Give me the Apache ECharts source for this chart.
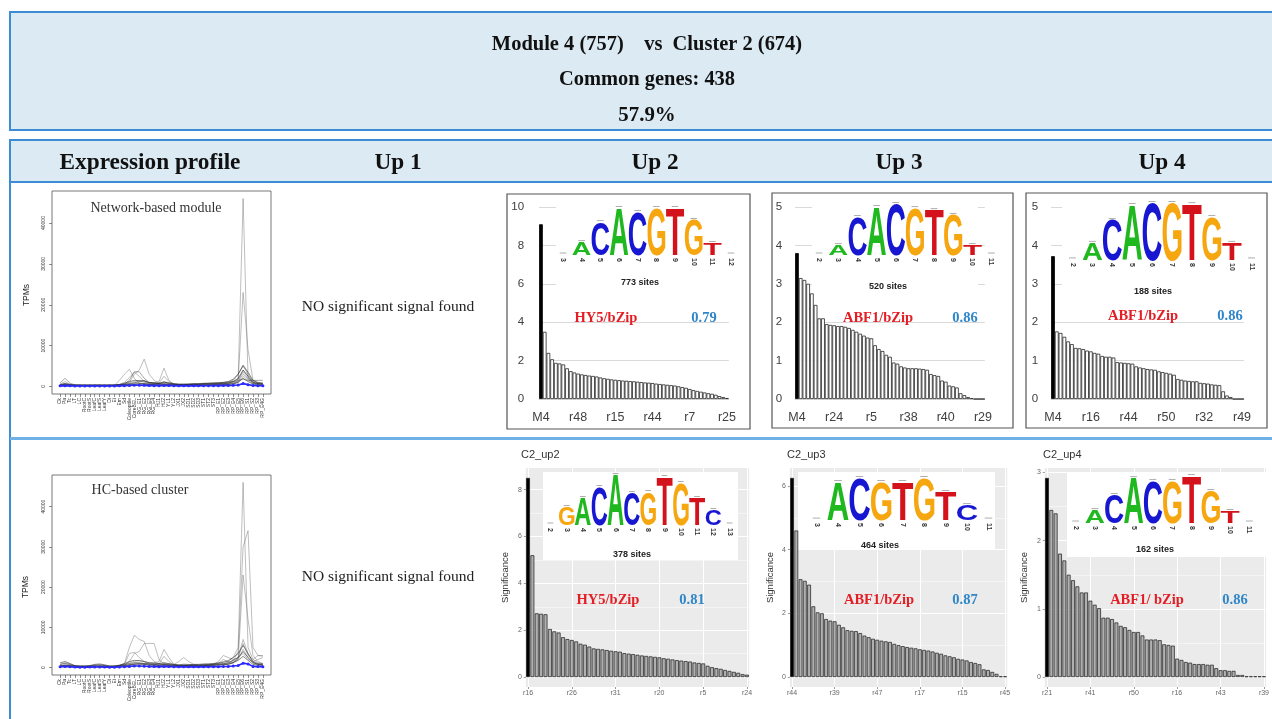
<!DOCTYPE html>
<html><head><meta charset="utf-8">
<script src="https://cdn.jsdelivr.net/npm/echarts@6/dist/echarts.min.js"></script>
<style>html,body{margin:0;padding:0;background:#fff;}#c{width:1272px;height:719px;}</style>
</head><body><div id="c"></div>
<script>
// ================= DATA =================
const tissues = ["Ck","Pa","Tc","LT","LC","RootC","RootS","LeafC","LeafS","LeafY","Di","Ei","Em","Sd","Coleoptile","CoreBEL","RG_E1","RG_E2","RG_E3","RG_E4","HJ1","HJ2","YL1","YL2","JX1","JX2","SD1","SD2","SD3","ST1","ST2","ST3","RP_E1","RP_E2","RP_E3","RP_E4","RP_E5","RP_E6","RP_S1","RP_S2","RP_S3","RP_E4G"];
const tpmTicks = [0,10000,20000,30000,40000];

// Network-based module (top) expression lines (TPM)
const modA = [600,1200,500,300,300,200, 200,300,300,200,200,300, 400,600,900,1200,1500,1000, 800,700,600,800,700,500, 400,500,600,600,500,600, 700,800,800,900,1000,1200, 1800,46000,2000,900,700,600];
const modB = [300,800,400,200,200,200, 200,200,200,200,200,200, 300,400,600,800,900,700, 500,500,400,500,500,400, 300,300,400,400,400,500, 500,600,600,700,800,800, 1500,23000,9000,1500,800,600];
const modC = [200,300,200,200,200,200, 200,200,200,200,200,300, 400,600,1000,3000,4000,6700, 3000,1500,800,600,500,400, 300,300,300,300,300,400, 400,400,500,500,600,800, 1200,3000,1800,800,600,500];
const modD = [300,400,300,200,200,200, 200,200,200,200,300,300, 1500,3000,4200,2000,800,600, 500,400,400,500,400,300, 300,300,300,300,300,300, 400,400,400,500,500,700, 1000,2500,1500,700,500,400];
const modE = [200,300,200,200,200,200, 200,200,200,200,200,200, 300,300,400,500,600,700, 700,900,1200,4500,1500,500, 400,300,300,300,300,300, 300,300,400,400,500,700, 1200,4000,2500,900,600,500];
const modF = [400,600,400,300,300,300, 300,300,300,300,300,300, 400,600,1500,3600,3600,2000, 1000,800,700,700,600,500, 400,400,500,500,500,600, 600,700,700,800,900,1500, 3000,5000,3000,1200,900,800];
const modG = [900,2000,800,400,300,300, 300,300,300,300,300,300, 300,400,500,600,700,600, 500,500,400,400,400,400, 400,400,500,600,700,800, 800,900,900,1000,1100,1200, 1400,1800,1500,1500,1500,1500];
const modH = [500,700,500,400,400,400, 400,400,400,400,400,400, 500,800,1200,1500,1400,1300, 1000,900,800,1000,900,700, 600,600,600,700,700,700, 800,800,900,1000,1200,1800, 3000,5200,3500,1500,1000,800];
const modI = [300,500,300,300,300,300, 300,300,300,300,300,300, 400,500,700,900,1200,1500, 900,800,700,1200,800,600, 500,500,500,500,500,600, 600,600,700,700,800,1200, 2000,4000,2500,1000,700,600];
const modJ = [200,300,200,200,200,200, 200,200,200,200,200,200, 200,300,400,500,600,600, 500,400,400,400,400,300, 300,300,300,300,300,300, 300,400,400,400,500,600, 1000,2000,1200,600,400,300];
const modK = [300,400,300,200,200,200, 200,200,200,200,200,300, 500,1000,2200,3500,2500,1200, 700,600,800,2500,1200,600, 500,400,400,400,400,400, 500,500,500,600,700,1000, 1800,3500,2000,900,700,600];
const modMean = [150,200,150,100,100,100, 100,100,100,100,100,120, 150,200,250,300,300,280, 220,200,200,250,220,180, 150,150,150,160,160,170, 180,190,200,210,230,280, 380,700,450,250,200,180];

// HC-based cluster (bottom) expression lines (TPM)
const hcA = [800,1200,900,400,300,300, 300,400,500,400,300,300, 500,800,1200,1500,1800,1500, 1200,1000,900,1000,900,700, 600,600,700,700,700,800, 900,1000,1200,1500,1800,2500, 5000,46000,5000,2000,1200,1000];
const hcB = [300,600,400,300,300,300, 300,300,300,300,300,300, 400,500,700,900,1000,900, 800,700,600,700,600,500, 500,500,500,500,500,600, 600,700,800,900,1200,1800, 4000,30000,34000,5000,3000,2800];
const hcC = [300,500,400,300,300,300, 300,300,300,300,300,300, 300,400,600,800,900,800, 600,600,500,600,500,400, 400,400,400,400,500,500, 500,600,700,800,1000,1500, 2000,23000,12000,3000,1500,1000];
const hcD = [400,600,400,300,300,300, 300,300,300,300,300,400, 600,1000,5000,8000,7000,6500, 3000,1500,900,800,700,600, 500,500,500,500,500,600, 600,700,700,800,900,1200, 2000,4500,2500,1200,800,700];
const hcE = [300,500,300,300,300,300, 300,300,300,300,300,300, 400,600,1500,3500,4000,6000, 6000,6000,2000,1000,800,600, 500,500,500,500,500,500, 600,600,700,700,900,1200, 2500,7000,3500,1200,800,700];
const hcF = [300,400,300,300,300,300, 300,300,300,300,300,300, 300,400,600,800,900,1000, 1000,1200,1500,4500,2500,800, 1500,2500,1500,800,600,600, 700,800,1500,3000,2500,2000, 2500,6000,3000,2000,3000,3000];
const hcG = [1200,1500,1000,500,400,400, 500,800,900,700,400,400, 600,1000,1500,1800,1700,1500, 1200,1100,1000,1200,1000,800, 700,700,700,800,800,900, 900,1000,1100,1300,1600,2500, 3500,5500,3500,1500,1000,900];
const hcH = [800,1000,700,400,300,300, 400,600,700,500,300,300, 500,700,1000,1200,1200,1000, 900,800,700,800,700,600, 500,500,500,600,600,700, 700,800,900,1000,1200,1800, 2500,4000,2500,1200,800,700];
const hcI = [500,600,500,300,300,300, 300,400,400,300,200,200, 300,500,700,900,900,800, 600,600,500,600,500,400, 400,400,400,400,400,500, 500,500,600,700,800,1200, 1800,2800,1800,800,600,500];
const hcJ = [300,400,300,200,200,200, 200,200,200,200,200,300, 500,800,3500,3800,2500,1500, 800,700,900,2800,1500,700, 600,900,800,600,500,500, 600,700,1000,2000,1500,1200, 2500,3500,2000,1500,2000,2500];
const hcMean = [200,250,200,120,100,100, 120,150,150,120,100,100, 150,200,300,380,380,350, 280,250,230,300,250,200, 180,200,190,180,180,190, 200,210,230,260,300,380, 520,1100,900,300,250,230];

// Motif enrichment bars - network modules (top row)
const up2TopCats = ["M4","r3","r12","r9","r30","r22","r41","r2","r17","r33","r48","r6","r27","r11","r39","r45","r1","r19","r36","r8","r15","r24","r50","r13","r4","r31","r42","r10","r28","r21","r44","r5","r37","r14","r47","r26","r18","r35","r40","r16","r7","r49","r23","r32","r29","r46","r34","r20","r43","r38","r25"];
const up2TopVals = [9.1,3.5,2.4,2.07,1.88,1.85,1.8,1.6,1.45,1.38, 1.32,1.28,1.25,1.22,1.2,1.17,1.12,1.08,1.05,1.02, 1.0,0.98,0.96,0.95,0.93,0.92,0.9,0.88,0.86,0.85, 0.83,0.8,0.78,0.76,0.74,0.72,0.7,0.66,0.62,0.58, 0.52,0.46,0.42,0.38,0.34,0.3,0.27,0.22,0.15,0.1, 0.05];
const up3TopCats = ["M4","r12","r3","r30","r9","r41","r22","r17","r2","r48","r24","r27","r6","r39","r11","r1","r45","r36","r19","r15","r5","r8","r13","r50","r31","r4","r10","r42","r21","r28","r38","r44","r14","r37","r26","r47","r35","r18","r16","r33","r40","r7","r23","r49","r25","r32","r34","r46","r43","r20","r29"];
const up3TopVals = [3.8,3.15,3.1,3.0,2.75,2.45,2.1,2.1,1.95,1.93, 1.92,1.9,1.9,1.88,1.85,1.8,1.75,1.7,1.65,1.6, 1.58,1.4,1.3,1.25,1.15,1.1,0.95,0.92,0.85,0.82, 0.8,0.8,0.8,0.79,0.78,0.76,0.65,0.62,0.6,0.48, 0.45,0.35,0.33,0.3,0.15,0.1,0.05,0.02,0,0, 0];
const up4TopCats = ["M4","r3","r12","r9","r30","r22","r41","r2","r17","r33","r16","r6","r27","r11","r39","r45","r1","r19","r36","r8","r44","r24","r15","r13","r4","r31","r42","r10","r28","r21","r50","r5","r37","r14","r47","r26","r18","r35","r40","r48","r32","r7","r23","r38","r29","r46","r34","r20","r43","r25","r49"];
const up4TopVals = [3.72,1.76,1.72,1.62,1.5,1.43,1.33,1.32,1.3,1.26, 1.24,1.2,1.18,1.12,1.1,1.1,1.08,0.96,0.95,0.94, 0.93,0.92,0.85,0.82,0.8,0.78,0.77,0.76,0.72,0.7, 0.68,0.66,0.63,0.52,0.5,0.48,0.47,0.46,0.46,0.42, 0.41,0.4,0.38,0.37,0.36,0.2,0.09,0.05,0,0, 0];

// Motif enrichment bars - HC clusters (bottom row)
const up2BotCats = ["r16","r3","r12","r9","r30","r22","r41","r2","r17","r33","r26","r6","r27","r11","r39","r45","r1","r19","r36","r8","r31","r48","r15","r13","r4","r50","r42","r10","r28","r21","r20","r44","r37","r14","r47","r35","r18","r40","r7","r49","r5","r23","r32","r29","r46","r34","r43","r38","r25","r0","r24"];
const up2BotVals = [8.5,5.2,2.72,2.7,2.68,2.05,1.95,1.9,1.7,1.62, 1.58,1.52,1.42,1.38,1.3,1.22,1.2,1.18,1.15,1.12, 1.1,1.08,1.02,1.0,0.98,0.95,0.92,0.9,0.88,0.86, 0.84,0.8,0.78,0.75,0.72,0.7,0.68,0.66,0.62,0.6, 0.58,0.48,0.42,0.38,0.35,0.3,0.26,0.22,0.18,0.12, 0.1];
const up3BotCats = ["r44","r3","r12","r9","r30","r22","r41","r2","r33","r48","r39","r6","r27","r11","r1","r19","r36","r8","r24","r50","r47","r13","r4","r31","r42","r10","r28","r21","r5","r37","r17","r14","r26","r18","r35","r40","r16","r7","r49","r23","r15","r32","r29","r46","r34","r20","r43","r38","r25","r0","r45"];
const up3BotVals = [6.25,4.6,3.07,3.02,2.9,2.22,2.03,2.0,1.82,1.77, 1.75,1.64,1.56,1.47,1.45,1.44,1.38,1.3,1.25,1.2, 1.17,1.14,1.12,1.1,1.04,1.0,0.97,0.94,0.92,0.9, 0.87,0.85,0.83,0.8,0.76,0.73,0.68,0.65,0.62,0.57, 0.55,0.52,0.47,0.44,0.4,0.24,0.22,0.16,0.1,0.02, 0.02];
const up4BotCats = ["r21","r3","r12","r9","r30","r22","r2","r17","r33","r48","r41","r6","r27","r11","r45","r1","r19","r36","r8","r24","r50","r15","r13","r4","r31","r42","r10","r28","r44","r5","r16","r37","r14","r47","r26","r18","r35","r40","r7","r49","r43","r23","r32","r29","r46","r34","r20","r38","r25","r0","r39"];
const up4BotVals = [2.92,2.45,2.4,1.81,1.71,1.5,1.42,1.33,1.24,1.24, 1.12,1.06,1.01,0.87,0.87,0.85,0.8,0.75,0.73,0.69, 0.66,0.66,0.61,0.55,0.55,0.55,0.54,0.48,0.47,0.46, 0.27,0.25,0.22,0.21,0.19,0.19,0.19,0.18,0.18,0.13, 0.1,0.1,0.09,0.09,0.03,0.03,0.01,0.01,0.01,0.01, 0.01];

const up2BotTicks = [0,2,4,6,8], up2BotMinor = [1,3,5,7];
const up3BotTicks = [0,2,4,6],   up3BotMinor = [1,3,5];
const up4BotTicks = [0,1,2,3],   up4BotMinor = [0.5,1.5,2.5];
const labelEvery10 = [0,10,20,30,40,50];

// Sequence logos (position labels, letters, heights in bits)
const logo1Pos = ["3","4","5","6","7","8","9","10","11","12"];
const logo1Let = ["A","A","C","A","C","G","T","G","T","A"];
const logo1H   = [0.02,0.55,1.40,2.0,1.83,2.0,2.0,1.49,0.51,0.02];
const logo2Pos = ["2","3","4","5","6","7","8","9","10","11"];
const logo2Let = ["A","A","C","A","C","G","T","G","T","A"];
const logo2H   = [0.02,0.39,1.49,1.88,2.0,1.84,1.76,1.57,0.39,0.02];
const logo3Pos = ["2","3","4","5","6","7","8","9","10","11"];
const logo3Let = ["A","A","C","A","C","G","T","G","T","A"];
const logo3H   = [0.02,0.6,1.4,1.93,2.0,2.0,1.96,1.51,0.6,0.02];
const logo4Pos = ["2","3","4","5","6","7","8","9","10","11","12","13"];
const logo4Let = ["A","G","A","C","A","C","G","T","G","T","C","A"];
const logo4H   = [0.02,0.72,1.08,1.52,2.0,1.28,1.32,1.92,1.68,1.08,0.6,0.02];
const logo5Pos = ["3","4","5","6","7","8","9","10","11"];
const logo5Let = ["A","A","C","G","T","G","T","C","A"];
const logo5H   = [0.02,1.81,2.0,1.81,1.81,2.0,1.33,0.71,0.02];
const logo6Pos = ["2","3","4","5","6","7","8","9","10","11"];
const logo6Let = ["A","A","C","A","C","G","T","G","T","A"];
const logo6H   = [0.02,0.55,1.19,1.91,1.79,1.79,2.0,1.36,0.51,0.02];

// ================= CHART =================
const SERIF = '"Liberation Serif","Times New Roman",serif';
const SANS = '"Liberation Sans",Arial,sans-serif';
const LETTER_COLORS = {A:'#1fb81f', C:'#1717d2', G:'#f6a60f', T:'#d3121c'};
const mctx = document.createElement('canvas').getContext('2d');
mctx.font = 'bold 40px "Liberation Sans"'; mctx.textBaseline = 'middle'; mctx.textAlign = 'center';
const gcache = {};
function glyph(ch){ if(!gcache[ch]){ const m = mctx.measureText(ch); gcache[ch] = {l:m.actualBoundingBoxLeft, r:m.actualBoundingBoxRight, a:m.actualBoundingBoxAscent, d:m.actualBoundingBoxDescent}; } return gcache[ch]; }
function logoRender(letters){
  return function(params, api){
    const i = api.value(0), h = api.value(1);
    const base = api.coord([i,0]), top = api.coord([i,h]);
    const bw = api.size([1,0])[0]*0.98;
    const H = base[1]-top[1];
    const kids = [{type:'line', shape:{x1:base[0]-bw*0.18, y1:top[1]-1.5, x2:base[0]+bw*0.18, y2:top[1]-1.5}, style:{stroke:'#999', lineWidth:0.8}}];
    if (H > 2) {
      const ch = letters[params.dataIndex]; const g = glyph(ch);
      const sx = bw/(g.l+g.r), sy = H/(g.a+g.d);
      kids.push({type:'text', x: base[0]-(g.r-g.l)/2*sx, y: base[1]-g.d*sy, scaleX:sx, scaleY:sy,
        style:{text:ch, fontSize:40, fontWeight:'bold', fontFamily:'"Liberation Sans"', fill:LETTER_COLORS[ch], align:'center', verticalAlign:'middle'}});
    }
    return {type:'group', children:kids};
  };
}

const tissueIdx = tissues.map((_, i) => i);
const pairs = arr => arr.map((v, i) => [i, v]);
const LIGHT = 'rgba(95,95,95,0.45)', MID = 'rgba(60,60,60,0.5)', DARK = 'rgba(30,30,30,0.6)';

const grid = [
  {left:52, top:191, width:219, height:203, show:true, borderColor:'#555', borderWidth:0.8, backgroundColor:'rgba(0,0,0,0)'},
  {left:52, top:475, width:219, height:200, show:true, borderColor:'#555', borderWidth:0.8, backgroundColor:'rgba(0,0,0,0)'},
  {left:539.1, top:207, width:189.7, height:192},
  {left:795.1, top:207, width:189.7, height:192},
  {left:1051.1, top:207, width:192.8, height:192},
  {left:525.8, top:468, width:223.4, height:219, show:true, backgroundColor:'#ebebeb', borderWidth:0},
  {left:789.9, top:468, width:217.3, height:219, show:true, backgroundColor:'#ebebeb', borderWidth:0},
  {left:1044.8, top:468, width:222.4, height:219, show:true, backgroundColor:'#ebebeb', borderWidth:0},
  {left:553.7, top:208, width:186.6, height:47},
  {left:809.6, top:204, width:191.4, height:51},
  {left:1062.5, top:203, width:199, height:57},
  {left:542.2, top:475, width:195.6, height:50},
  {left:805.75, top:478, width:193.5, height:42},
  {left:1066, top:476, width:193, height:47}
];

function exprX(gi){ return {gridIndex:gi, type:'value', min:-1.64, max:42.64, axisLine:{show:false, onZero:false}, splitLine:{show:false},
  axisTick:{customValues:tissueIdx, length:3, lineStyle:{color:'#444', width:0.6}},
  axisLabel:{customValues:tissueIdx, formatter:v=>tissues[v], rotate:90, fontSize:5, color:'#333', margin:4, fontFamily:SANS}}; }
function exprY(gi){ return {gridIndex:gi, type:'value', min:-1840, max:47840, axisLine:{show:false, onZero:false}, splitLine:{show:false},
  axisTick:{customValues:tpmTicks, length:3, lineStyle:{color:'#444', width:0.6}},
  axisLabel:{customValues:tpmTicks, formatter:v=>String(v), rotate:90, fontSize:5, color:'#333', margin:6, fontFamily:SANS}}; }
function topX(gi, cats){ return {gridIndex:gi, type:'category', data:cats, axisLine:{show:true, lineStyle:{color:'#d9d9d9'}}, axisTick:{show:false},
  axisLabel:{interval:9, fontSize:12.5, color:'#404040', margin:12, fontFamily:SANS}}; }
function topY(gi, max, iv, margin){ return {gridIndex:gi, type:'value', min:0, max:max, interval:iv, axisLine:{show:false}, axisTick:{show:false},
  splitLine:{lineStyle:{color:'#d9d9d9', width:1}}, axisLabel:{fontSize:11.5, color:'#404040', margin:margin, fontFamily:SANS}}; }
function botX(gi, cats){ return {gridIndex:gi, type:'category', data:cats, axisLine:{show:false, onZero:false},
  axisTick:{show:true, interval:9, alignWithLabel:true, length:2, lineStyle:{color:'#555', width:0.6}},
  axisLabel:{interval:9, fontSize:7, color:'#666', margin:3, fontFamily:SANS}, splitLine:{show:false}}; }
function botXGrid(gi){ return {gridIndex:gi, type:'value', min:-0.5, max:50.5, axisLine:{show:false, onZero:false}, axisLabel:{show:false},
  axisTick:{show:false, customValues:labelEvery10}, splitLine:{show:true, lineStyle:{color:'#ffffff', width:1}}}; }
function botY(gi, min, max, ticks){ return {gridIndex:gi, type:'value', min:min, max:max, axisLine:{show:false, onZero:false},
  axisTick:{customValues:ticks, length:2, lineStyle:{color:'#555', width:0.6}},
  axisLabel:{customValues:ticks, fontSize:7, color:'#666', margin:4, fontFamily:SANS},
  splitLine:{show:true, lineStyle:{color:'#ffffff', width:1}},
  name:'Significance', nameLocation:'middle', nameGap:15, nameTextStyle:{fontSize:9.5, color:'#333', fontFamily:SANS}}; }
function botYMinor(gi, min, max, ticks){ return {gridIndex:gi, type:'value', min:min, max:max, position:'left', axisLine:{show:false, onZero:false},
  axisLabel:{show:false}, axisTick:{show:false, customValues:ticks}, splitLine:{show:true, lineStyle:{color:'#ffffff', width:0.5}}}; }
function logoX(gi, pos){ return {gridIndex:gi, type:'category', data:pos, z:8, axisLine:{show:false}, axisTick:{show:false},
  axisLabel:{interval:0, rotate:-90, fontSize:7, fontWeight:'bold', color:'#333', margin:3, fontFamily:SANS, hideOverlap:false}}; }
function logoY(gi){ return {gridIndex:gi, type:'value', min:0, max:2, show:false}; }

const xAxis = [exprX(0), exprX(1), topX(2,up2TopCats), topX(3,up3TopCats), topX(4,up4TopCats),
  botX(5,up2BotCats), botX(6,up3BotCats), botX(7,up4BotCats), botXGrid(5), botXGrid(6), botXGrid(7),
  logoX(8,logo1Pos), logoX(9,logo2Pos), logoX(10,logo3Pos), logoX(11,logo4Pos), logoX(12,logo5Pos), logoX(13,logo6Pos)];
const yAxis = [exprY(0), exprY(1), topY(2,10,2,15), topY(3,5,1,13), topY(4,5,1,13),
  botY(5,-0.425,8.925,up2BotTicks), botY(6,-0.3125,6.5625,up3BotTicks), botY(7,-0.146,3.066,up4BotTicks),
  botYMinor(5,-0.425,8.925,up2BotMinor), botYMinor(6,-0.3125,6.5625,up3BotMinor), botYMinor(7,-0.146,3.066,up4BotMinor),
  logoY(8), logoY(9), logoY(10), logoY(11), logoY(12), logoY(13)];

const series = [];
function exprLine(ai, arr, color){ series.push({type:'line', xAxisIndex:ai, yAxisIndex:ai, data:pairs(arr), symbol:'none', silent:true, lineStyle:{color:color, width:0.9}, z:2}); }
[[modA,LIGHT],[modB,LIGHT],[modC,LIGHT],[modD,LIGHT],[modE,LIGHT],[modK,LIGHT],[modG,MID],[modF,MID],[modH,DARK],[modI,DARK],[modJ,DARK]].forEach(p=>exprLine(0,p[0],p[1]));
[[hcA,LIGHT],[hcB,LIGHT],[hcC,LIGHT],[hcD,LIGHT],[hcE,LIGHT],[hcF,LIGHT],[hcJ,LIGHT],[hcG,DARK],[hcH,DARK],[hcI,DARK]].forEach(p=>exprLine(1,p[0],p[1]));
[[0,modMean],[1,hcMean]].forEach(p=>series.push({type:'line', xAxisIndex:p[0], yAxisIndex:p[0], data:pairs(p[1]), symbol:'circle', symbolSize:3, silent:true,
  itemStyle:{color:'#2a2aff'}, lineStyle:{color:'#2a2aff', width:1.6}, z:3}));

function topBars(ai, vals){ series.push({type:'bar', xAxisIndex:ai, yAxisIndex:ai, barCategoryGap:'0%', silent:true,
  data: vals.map((v,i)=> i===0 ? {value:v, itemStyle:{color:'#000', borderColor:'#000'}} : v),
  itemStyle:{color:'#ffffff', borderColor:'#262626', borderWidth:0.8}, z:2}); }
topBars(2, up2TopVals); topBars(3, up3TopVals); topBars(4, up4TopVals);
function botBars(ai, vals){ series.push({type:'bar', xAxisIndex:ai, yAxisIndex:ai, barCategoryGap:'12%', silent:true,
  data: vals.map((v,i)=> i===0 ? {value:v, itemStyle:{color:'#000'}} : v),
  itemStyle:{color:'#b0b0b0', borderColor:'#1a1a1a', borderWidth:0.7}, z:2}); }
botBars(5, up2BotVals); botBars(6, up3BotVals); botBars(7, up4BotVals);

[[11,logo1Let,logo1H],[12,logo2Let,logo2H],[13,logo3Let,logo3H],[14,logo4Let,logo4H],[15,logo5Let,logo5H],[16,logo6Let,logo6H]].forEach(p=>{
  series.push({type:'custom', xAxisIndex:p[0], yAxisIndex:p[0], renderItem:logoRender(p[1]), data:pairs(p[2]), silent:true, clip:false, z:6});
});

// ---------- decorations & texts ----------
function T(x, y, text, st, extra){ return Object.assign({type:'text', x:x, y:y, z:10, silent:true,
  style:Object.assign({text:text, align:'center', verticalAlign:'middle', fill:'#111', fontFamily:SERIF, fontSize:14}, st||{})}, extra||{}); }
const BLUE = '#3c8dd6';
const elements = [
  {type:'rect', z:-10, silent:true, shape:{x:10,y:12,width:1290,height:118}, style:{fill:'#dbeaf3', stroke:BLUE, lineWidth:2}},
  {type:'rect', z:-10, silent:true, shape:{x:10,y:140,width:1290,height:620}, style:{fill:'#ffffff', stroke:BLUE, lineWidth:2}},
  {type:'rect', z:-9, silent:true, shape:{x:11,y:141,width:1290,height:41}, style:{fill:'#dbeaf3'}},
  {type:'line', z:-8, silent:true, shape:{x1:10,y1:182,x2:1272,y2:182}, style:{stroke:BLUE, lineWidth:2}},
  {type:'line', z:-8, silent:true, shape:{x1:10,y1:438.5,x2:1272,y2:438.5}, style:{stroke:'#6fb1e7', lineWidth:3}},
  // excel chart frames
  {type:'rect', z:1, silent:true, shape:{x:507,y:194,width:243,height:235}, style:{fill:null, stroke:'#555', lineWidth:1.2}},
  {type:'rect', z:1, silent:true, shape:{x:772,y:193,width:241,height:235}, style:{fill:null, stroke:'#555', lineWidth:1.2}},
  {type:'rect', z:1, silent:true, shape:{x:1026,y:193,width:241,height:235}, style:{fill:null, stroke:'#555', lineWidth:1.2}},
  // logo backgrounds
  {type:'rect', z:1, silent:true, shape:{x:556,y:200,width:182,height:92}, style:{fill:'#fff'}},
  {type:'rect', z:1, silent:true, shape:{x:812,y:198,width:166,height:94}, style:{fill:'#fff'}},
  {type:'rect', z:1, silent:true, shape:{x:1062,y:198,width:200,height:98}, style:{fill:'#fff'}},
  {type:'rect', z:1, silent:true, shape:{x:543,y:472,width:195,height:88}, style:{fill:'#fff'}},
  {type:'rect', z:1, silent:true, shape:{x:798,y:472,width:197,height:78}, style:{fill:'#fff'}},
  {type:'rect', z:1, silent:true, shape:{x:1067,y:472,width:210,height:85}, style:{fill:'#fff'}},
  // header
  T(647, 44, 'Module 4 (757)    vs  Cluster 2 (674)', {fontSize:22, fontWeight:'bold'}, {scaleX:0.93}),
  T(647, 79, 'Common genes: 438', {fontSize:22, fontWeight:'bold'}, {scaleX:0.93}),
  T(647, 115, '57.9%', {fontSize:22, fontWeight:'bold'}, {scaleX:0.95}),
  T(150, 163, 'Expression profile', {fontSize:24, fontWeight:'bold'}, {scaleX:0.97}),
  T(398, 163, 'Up 1', {fontSize:24, fontWeight:'bold'}, {scaleX:0.97}),
  T(655, 163, 'Up 2', {fontSize:24, fontWeight:'bold'}, {scaleX:0.97}),
  T(899, 163, 'Up 3', {fontSize:24, fontWeight:'bold'}, {scaleX:0.97}),
  T(1162, 163, 'Up 4', {fontSize:24, fontWeight:'bold'}, {scaleX:0.97}),
  T(388, 307, 'NO significant signal found', {fontSize:15.5, fill:'#222'}),
  T(388, 577, 'NO significant signal found', {fontSize:15.5, fill:'#222'}),
  T(156, 208, 'Network-based module', {fontSize:14, fill:'#333'}),
  T(140, 490, 'HC-based cluster', {fontSize:14, fill:'#333'}),
  T(27, 295, 'TPMs', {fontSize:8.5, fontFamily:SANS, fill:'#222'}, {rotation:Math.PI/2}),
  T(26, 587, 'TPMs', {fontSize:8.5, fontFamily:SANS, fill:'#222'}, {rotation:Math.PI/2}),
  // sites
  T(640, 283, '773 sites', {fontSize:9, fontWeight:'bold', fontFamily:SANS, fill:'#222'}),
  T(888, 287, '520 sites', {fontSize:9, fontWeight:'bold', fontFamily:SANS, fill:'#222'}),
  T(1153, 292, '188 sites', {fontSize:9, fontWeight:'bold', fontFamily:SANS, fill:'#222'}),
  T(632, 555, '378 sites', {fontSize:9, fontWeight:'bold', fontFamily:SANS, fill:'#222'}),
  T(880, 546, '464 sites', {fontSize:9, fontWeight:'bold', fontFamily:SANS, fill:'#222'}),
  T(1155, 550, '162 sites', {fontSize:9, fontWeight:'bold', fontFamily:SANS, fill:'#222'}),
  // motif annotations
  T(606, 318, 'HY5/bZip', {fontSize:14.5, fontWeight:'bold', fill:'#e31e24'}),
  T(704, 318, '0.79', {fontSize:14.5, fontWeight:'bold', fill:'#2f86c9'}),
  T(878, 318, 'ABF1/bZip', {fontSize:14.5, fontWeight:'bold', fill:'#e31e24'}),
  T(965, 318, '0.86', {fontSize:14.5, fontWeight:'bold', fill:'#2f86c9'}),
  T(1143, 316, 'ABF1/bZip', {fontSize:14.5, fontWeight:'bold', fill:'#e31e24'}),
  T(1230, 316, '0.86', {fontSize:14.5, fontWeight:'bold', fill:'#2f86c9'}),
  T(608, 600, 'HY5/bZip', {fontSize:14.5, fontWeight:'bold', fill:'#e31e24'}),
  T(692, 600, '0.81', {fontSize:14.5, fontWeight:'bold', fill:'#2f86c9'}),
  T(879, 600, 'ABF1/bZip', {fontSize:14.5, fontWeight:'bold', fill:'#e31e24'}),
  T(965, 600, '0.87', {fontSize:14.5, fontWeight:'bold', fill:'#2f86c9'}),
  T(1147, 600, 'ABF1/ bZip', {fontSize:14.5, fontWeight:'bold', fill:'#e31e24'}),
  T(1235, 600, '0.86', {fontSize:14.5, fontWeight:'bold', fill:'#2f86c9'}),
  // ggplot titles
  T(521, 455, 'C2_up2', {fontSize:11, fontFamily:SANS, fill:'#333', align:'left'}),
  T(787, 455, 'C2_up3', {fontSize:11, fontFamily:SANS, fill:'#333', align:'left'}),
  T(1043, 455, 'C2_up4', {fontSize:11, fontFamily:SANS, fill:'#333', align:'left'})
];

const chart = echarts.init(document.getElementById('c'), null, {renderer:'canvas', width:1272, height:719});
chart.setOption({animation:false, backgroundColor:'#ffffff', grid:grid, xAxis:xAxis, yAxis:yAxis, series:series, graphic:{elements:elements}});
</script></body></html>
